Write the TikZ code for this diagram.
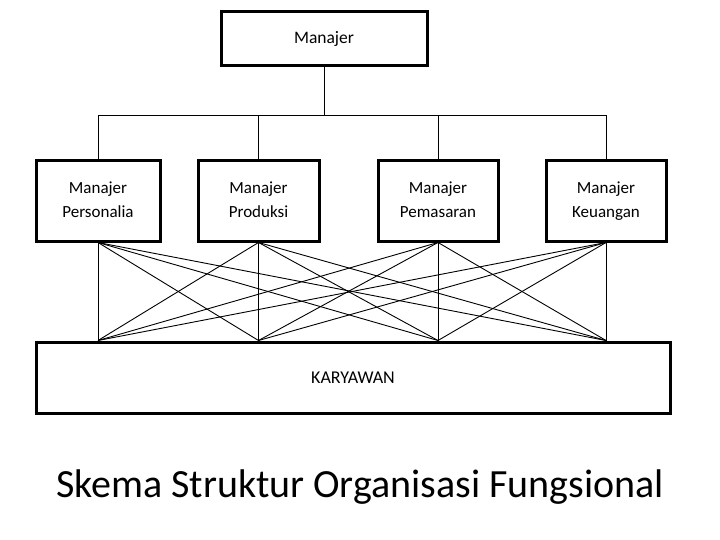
\documentclass[tikz,border=0pt]{standalone}
\usepackage{fontspec}
\setmainfont{Carlito}
\begin{document}
\begin{tikzpicture}[x=1pt,y=1pt,
  box/.style={draw,line width=3pt,inner sep=0pt,align=center,font=\fontsize{17}{24}\selectfont},
  conn/.style={line width=0.9pt}]
\useasboundingbox (0,0) rectangle (720,-540);
\node[box,minimum width=206,minimum height=54,font=\fontsize{17.5}{24}\selectfont] (top) at (324,-39) {Manajer};
\node[box,minimum width=124,minimum height=80] (p1) at (98,-201) {Manajer\\Personalia\vphantom{g}};
\node[box,minimum width=121,minimum height=80] (p2) at (258.5,-201) {Manajer\\Produksi\vphantom{g}};
\node[box,minimum width=120,minimum height=80] (p3) at (438,-201) {Manajer\\Pemasaran\vphantom{g}};
\node[box,minimum width=120,minimum height=80] (p4) at (606,-201) {Manajer\\Keuangan};
\node[box,minimum width=634,minimum height=71,font=\fontsize{18}{24}\selectfont] (k) at (353,-377.5) {KARYAWAN};
\coordinate (bus) at (324,-115);
\draw[conn] (top.south) -- (bus);
\foreach \i in {1,...,4} {
  \draw[conn] (bus) -| (p\i.north);
}
\foreach \i in {1,...,4} {
  \foreach \j in {1,...,4} {
    \draw[conn] (p\i.south) -- (p\j.south |- k.north);
  }
}
\node[font=\fontsize{40}{48}\selectfont] (title) at (360,-487) {Skema Struktur Organisasi Fungsional};
\end{tikzpicture}
\end{document}
